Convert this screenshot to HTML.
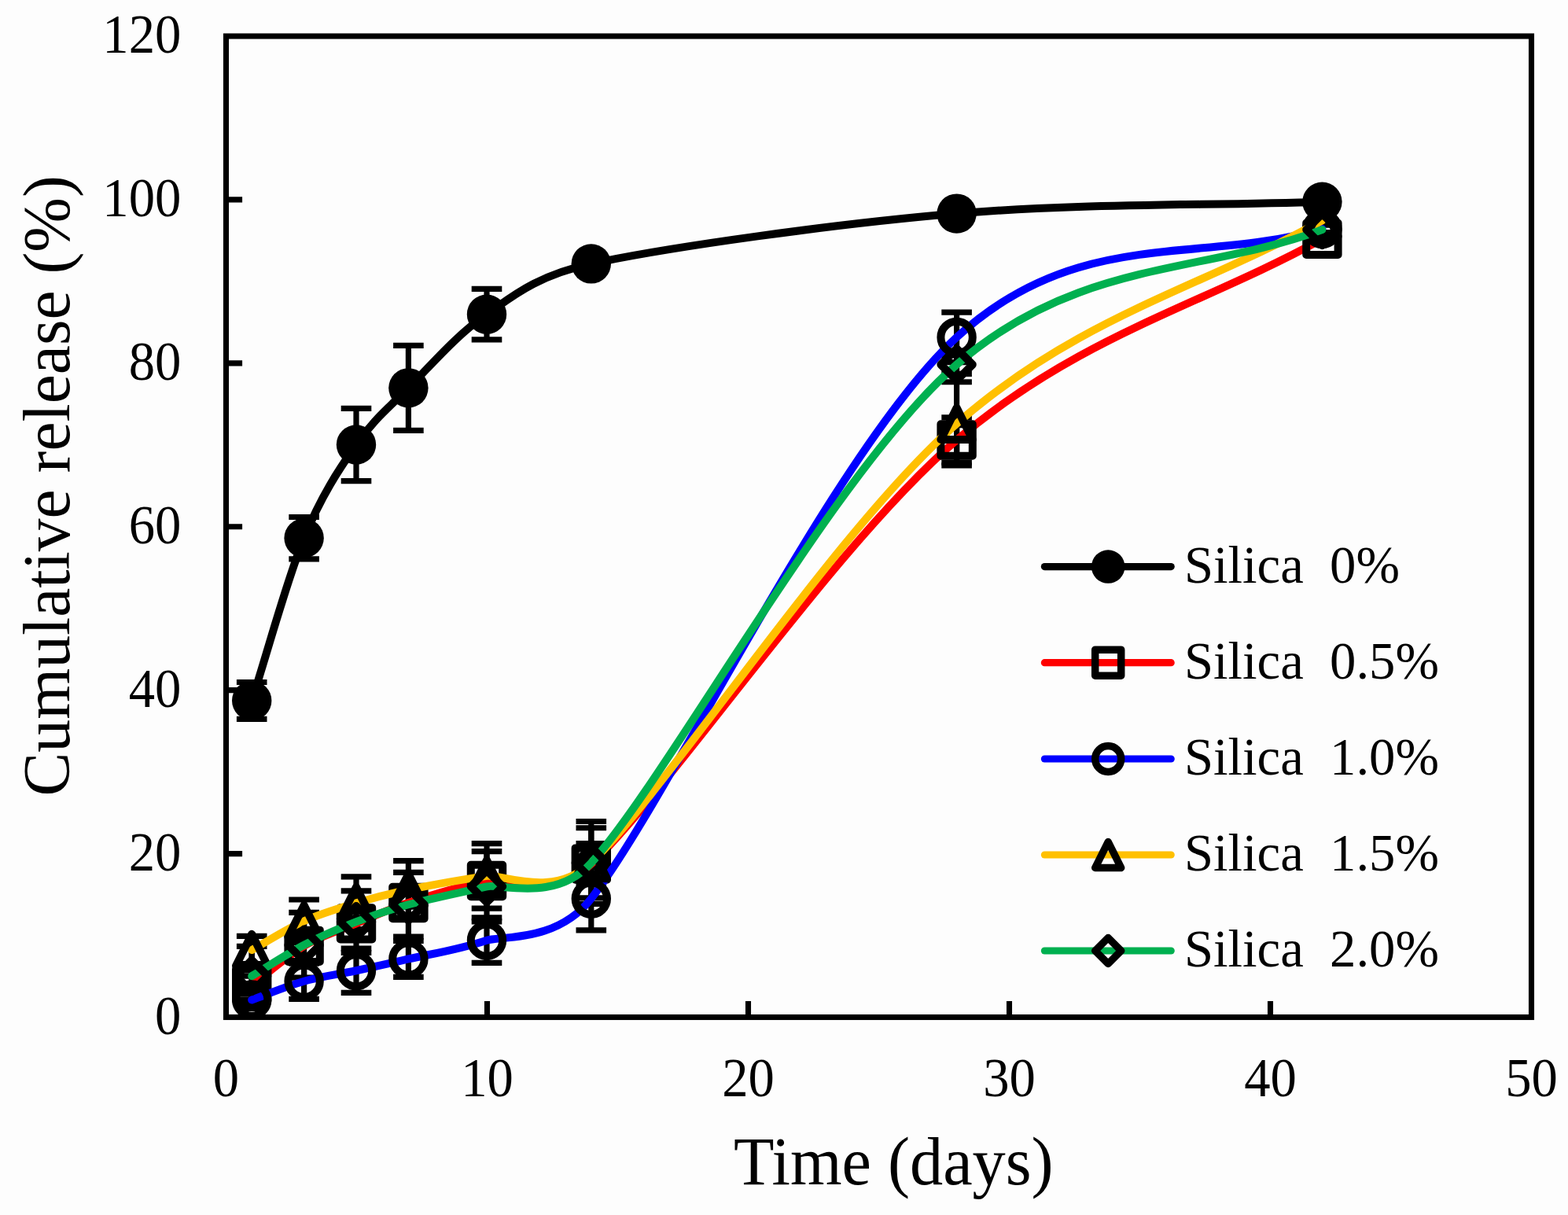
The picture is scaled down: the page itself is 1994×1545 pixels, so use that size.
<!DOCTYPE html>
<html lang="en">
<head>
<meta charset="utf-8">
<title>Cumulative release (%) vs Time (days)</title>
<style>
html,body{margin:0;padding:0;background:#fdfdfd;}
body{width:1994px;height:1545px;overflow:hidden;}
svg{display:block;}
text{font-family:"Liberation Serif","Times New Roman",Times,serif;fill:#000;}
.tick{font-size:66.67px;}
.title{font-size:83.6px;}
.leg{font-size:66.67px;white-space:pre;}
</style>
</head>
<body>
<svg width="1994" height="1545" viewBox="0 0 1994 1545" role="img" aria-label="Cumulative release versus time for silica 0 to 2.0%">
<rect x="0" y="0" width="1994" height="1545" fill="#fdfdfd"/>
<g id="series" fill="none" stroke-linecap="round" stroke-linejoin="round">
<g id="errorbars">
<path d="M320.2,867.48 V914.47 M300.9,867.48 H339.5 M300.9,914.47 H339.5 M386.6,657.48 V710.92 M367.3,657.48 H405.9 M367.3,710.92 H405.9 M453,519.32 V611.64 M433.7,519.32 H472.3 M433.7,611.64 H472.3 M519.4,439.38 V547.29 M500.1,439.38 H538.7 M500.1,547.29 H538.7 M619,367.44 V431.89 M599.7,367.44 H638.3 M599.7,431.89 H638.3" stroke="#000" stroke-width="7.2" stroke-linecap="butt"/>
<path d="M320.2,1241.21 V1264.08 M300.9,1241.21 H339.5 M300.9,1264.08 H339.5 M751.8,1072.59 V1124.57 M732.5,1072.59 H771.1 M732.5,1124.57 H771.1 M1216.6,530.97 V588.14 M1197.3,530.97 H1235.9 M1197.3,588.14 H1235.9" stroke="#000" stroke-width="7.2" stroke-linecap="butt"/>
<path d="M320.2,1260.55 V1282.38 M300.9,1260.55 H339.5 M300.9,1282.38 H339.5 M386.6,1225.2 V1270.32 M367.3,1225.2 H405.9 M367.3,1270.32 H405.9 M453,1206.18 V1262.31 M433.7,1206.18 H472.3 M433.7,1262.31 H472.3 M519.4,1196.51 V1242.46 M500.1,1196.51 H538.7 M500.1,1242.46 H538.7 M619,1166.88 V1224.47 M599.7,1166.88 H638.3 M599.7,1224.47 H638.3 M751.8,1102.74 V1182.78 M732.5,1102.74 H771.1 M732.5,1182.78 H771.1 M1216.6,397.17 V460.59 M1197.3,397.17 H1235.9 M1197.3,460.59 H1235.9 M1681.4,286.25 V295.6 M1662.1,286.25 H1700.7 M1662.1,295.6 H1700.7" stroke="#000" stroke-width="7.2" stroke-linecap="butt"/>
<path d="M320.2,1190.37 V1225.72 M300.9,1190.37 H339.5 M300.9,1225.72 H339.5 M386.6,1144.01 V1198.48 M367.3,1144.01 H405.9 M367.3,1198.48 H405.9 M453,1114.9 V1181.64 M433.7,1114.9 H472.3 M433.7,1181.64 H472.3 M519.4,1094.63 V1168.23 M500.1,1094.63 H538.7 M500.1,1168.23 H538.7 M619,1072.59 V1155.13 M599.7,1072.59 H638.3 M599.7,1155.13 H638.3 M751.8,1044.52 V1149.52 M732.5,1044.52 H771.1 M732.5,1149.52 H771.1 M1216.6,485.74 V591.78 M1197.3,485.74 H1235.9 M1197.3,591.78 H1235.9" stroke="#000" stroke-width="7.2" stroke-linecap="butt"/>
<path d="M320.2,1203.37 V1278.84 M300.9,1203.37 H339.5 M300.9,1278.84 H339.5 M386.6,1160.33 V1243.08 M367.3,1160.33 H405.9 M367.3,1243.08 H405.9 M453,1132.88 V1211.48 M433.7,1132.88 H472.3 M433.7,1211.48 H472.3 M519.4,1109.39 V1191.1 M500.1,1109.39 H538.7 M500.1,1191.1 H538.7 M619,1082.67 V1171.87 M599.7,1082.67 H638.3 M599.7,1171.87 H638.3 M751.8,1052.73 V1141.93 M732.5,1052.73 H771.1 M732.5,1141.93 H771.1 M1216.6,451.85 V475.35 M1197.3,451.85 H1235.9 M1197.3,475.35 H1235.9" stroke="#000" stroke-width="7.2" stroke-linecap="butt"/>
</g>
<g>
<path d="M320.2,890.97 C342.33,822.05 364.47,738.45 386.6,684.2 C408.73,629.95 430.87,597.29 453,565.48 C475.13,533.67 491.73,520.97 519.4,493.33 C547.07,465.7 580.27,425.99 619,399.67 C647.05,380.61 679.68,350.88 751.8,335.42 C851.4,314.07 1061.67,284.71 1216.6,271.59 C1371.53,258.47 1526.47,261.68 1681.4,256.72" stroke="#000000" stroke-width="10"/>
<circle cx="320.2" cy="890.97" r="25.2" fill="#000"/>
<circle cx="386.6" cy="684.2" r="25.2" fill="#000"/>
<circle cx="453" cy="565.48" r="25.2" fill="#000"/>
<circle cx="519.4" cy="493.33" r="25.2" fill="#000"/>
<circle cx="619" cy="399.67" r="25.2" fill="#000"/>
<circle cx="751.8" cy="335.42" r="25.2" fill="#000"/>
<circle cx="1216.6" cy="271.59" r="25.2" fill="#000"/>
<circle cx="1681.4" cy="256.72" r="25.2" fill="#000"/>
</g>
<g>
<path d="M320.2,1252.64 C342.33,1236.05 364.47,1215.9 386.6,1202.85 C408.73,1189.8 430.87,1183.51 453,1174.36 C475.13,1165.22 491.73,1157.02 519.4,1147.96 C547.07,1138.9 580.27,1128.22 619,1119.99 C638.08,1115.94 702.74,1144.59 751.8,1098.58 C851.4,1005.17 1061.67,692.01 1216.6,559.55 C1371.53,427.09 1526.47,389.06 1681.4,303.82" stroke="#ff0000" stroke-width="10"/>
<rect x="300" y="1232.44" width="40.4" height="40.4" fill="none" stroke="#000" stroke-width="10" stroke-linejoin="round"/>
<rect x="366.4" y="1182.65" width="40.4" height="40.4" fill="none" stroke="#000" stroke-width="10" stroke-linejoin="round"/>
<rect x="432.8" y="1154.16" width="40.4" height="40.4" fill="none" stroke="#000" stroke-width="10" stroke-linejoin="round"/>
<rect x="499.2" y="1127.76" width="40.4" height="40.4" fill="none" stroke="#000" stroke-width="10" stroke-linejoin="round"/>
<rect x="598.8" y="1099.79" width="40.4" height="40.4" fill="none" stroke="#000" stroke-width="10" stroke-linejoin="round"/>
<rect x="731.6" y="1078.38" width="40.4" height="40.4" fill="none" stroke="#000" stroke-width="10" stroke-linejoin="round"/>
<rect x="1196.4" y="539.35" width="40.4" height="40.4" fill="none" stroke="#000" stroke-width="10" stroke-linejoin="round"/>
<rect x="1661.2" y="283.62" width="40.4" height="40.4" fill="none" stroke="#000" stroke-width="10" stroke-linejoin="round"/>
</g>
<g>
<path d="M320.2,1271.46 C342.33,1263.56 364.47,1253.96 386.6,1247.76 C408.73,1241.56 430.87,1238.96 453,1234.24 C475.13,1229.53 491.73,1225.91 519.4,1219.48 C547.07,1213.05 580.27,1208.46 619,1195.68 C636.09,1190.03 707.86,1199.14 751.8,1142.76 C851.4,1014.96 1061.67,570.85 1216.6,428.88 C1371.53,286.91 1526.47,336.91 1681.4,290.93" stroke="#0000ff" stroke-width="10"/>
<circle cx="320.2" cy="1271.46" r="20.2" fill="none" stroke="#000" stroke-width="10"/>
<circle cx="386.6" cy="1247.76" r="20.2" fill="none" stroke="#000" stroke-width="10"/>
<circle cx="453" cy="1234.24" r="20.2" fill="none" stroke="#000" stroke-width="10"/>
<circle cx="519.4" cy="1219.48" r="20.2" fill="none" stroke="#000" stroke-width="10"/>
<circle cx="619" cy="1195.68" r="20.2" fill="none" stroke="#000" stroke-width="10"/>
<circle cx="751.8" cy="1142.76" r="20.2" fill="none" stroke="#000" stroke-width="10"/>
<circle cx="1216.6" cy="428.88" r="20.2" fill="none" stroke="#000" stroke-width="10"/>
<circle cx="1681.4" cy="290.93" r="20.2" fill="none" stroke="#000" stroke-width="10"/>
</g>
<g>
<path d="M320.2,1208.05 C342.33,1195.78 364.47,1181.21 386.6,1171.24 C408.73,1161.28 430.87,1154.91 453,1148.27 C475.13,1141.63 491.73,1137.16 519.4,1131.43 C547.07,1125.69 580.27,1119.6 619,1113.86 C637.76,1111.08 703.57,1143.43 751.8,1097.02 C851.4,1001.17 1061.67,674.86 1216.6,538.76 C1371.53,402.66 1526.47,366.54 1681.4,280.43" stroke="#ffc000" stroke-width="10"/>
<path d="M320.2,1187.85 L340.4,1228.25 L300,1228.25 Z" fill="none" stroke="#000" stroke-width="10" stroke-linejoin="round"/>
<path d="M386.6,1151.04 L406.8,1191.44 L366.4,1191.44 Z" fill="none" stroke="#000" stroke-width="10" stroke-linejoin="round"/>
<path d="M453,1128.07 L473.2,1168.47 L432.8,1168.47 Z" fill="none" stroke="#000" stroke-width="10" stroke-linejoin="round"/>
<path d="M519.4,1111.23 L539.6,1151.63 L499.2,1151.63 Z" fill="none" stroke="#000" stroke-width="10" stroke-linejoin="round"/>
<path d="M619,1093.66 L639.2,1134.06 L598.8,1134.06 Z" fill="none" stroke="#000" stroke-width="10" stroke-linejoin="round"/>
<path d="M751.8,1076.82 L772,1117.22 L731.6,1117.22 Z" fill="none" stroke="#000" stroke-width="10" stroke-linejoin="round"/>
<path d="M1216.6,518.56 L1236.8,558.96 L1196.4,558.96 Z" fill="none" stroke="#000" stroke-width="10" stroke-linejoin="round"/>
<path d="M1681.4,260.23 L1701.6,300.63 L1661.2,300.63 Z" fill="none" stroke="#000" stroke-width="10" stroke-linejoin="round"/>
</g>
<g>
<path d="M320.2,1241.11 C342.33,1227.97 364.47,1213.19 386.6,1201.7 C408.73,1190.22 430.87,1180.76 453,1172.18 C475.13,1163.6 491.73,1157.73 519.4,1150.25 C547.07,1142.76 580.27,1136.09 619,1127.27 C636.71,1123.24 706.25,1147.91 751.8,1097.33 C851.4,986.72 1061.67,597.81 1216.6,463.6 C1371.53,329.39 1526.47,349.25 1681.4,292.07" stroke="#00b050" stroke-width="10"/>
<path d="M320.2,1220.9 L340.4,1241.11 L320.2,1261.31 L300,1241.11 Z" fill="none" stroke="#000" stroke-width="10" stroke-linejoin="round"/>
<path d="M386.6,1181.5 L406.8,1201.7 L386.6,1221.9 L366.4,1201.7 Z" fill="none" stroke="#000" stroke-width="10" stroke-linejoin="round"/>
<path d="M453,1151.98 L473.2,1172.18 L453,1192.38 L432.8,1172.18 Z" fill="none" stroke="#000" stroke-width="10" stroke-linejoin="round"/>
<path d="M519.4,1130.05 L539.6,1150.25 L519.4,1170.45 L499.2,1150.25 Z" fill="none" stroke="#000" stroke-width="10" stroke-linejoin="round"/>
<path d="M619,1107.07 L639.2,1127.27 L619,1147.47 L598.8,1127.27 Z" fill="none" stroke="#000" stroke-width="10" stroke-linejoin="round"/>
<path d="M751.8,1077.13 L772,1097.33 L751.8,1117.53 L731.6,1097.33 Z" fill="none" stroke="#000" stroke-width="10" stroke-linejoin="round"/>
<path d="M1216.6,443.4 L1236.8,463.6 L1216.6,483.8 L1196.4,463.6 Z" fill="none" stroke="#000" stroke-width="10" stroke-linejoin="round"/>
<path d="M1681.4,271.87 L1701.6,292.07 L1681.4,312.27 L1661.2,292.07 Z" fill="none" stroke="#000" stroke-width="10" stroke-linejoin="round"/>
</g>
</g>
<rect x="287.5" y="46" width="1660" height="1247.5" fill="none" stroke="#000" stroke-width="7.1"/>
<path d="M287.5,1085.58 h20.6 M287.5,877.67 h20.6 M287.5,669.75 h20.6 M287.5,461.83 h20.6 M287.5,253.92 h20.6 M619.5,1293.5 v-20.6 M951.5,1293.5 v-20.6 M1283.5,1293.5 v-20.6 M1615.5,1293.5 v-20.6" fill="none" stroke="#000" stroke-width="7.1"/>
<g class="tick" text-anchor="end">
<text transform="translate(230.3 1314.5) scale(1 1.04)">0</text>
<text transform="translate(230.3 1106.58) scale(1 1.04)">20</text>
<text transform="translate(230.3 898.67) scale(1 1.04)">40</text>
<text transform="translate(230.3 690.75) scale(1 1.04)">60</text>
<text transform="translate(230.3 482.83) scale(1 1.04)">80</text>
<text transform="translate(230.3 274.92) scale(1 1.04)">100</text>
<text transform="translate(230.3 67) scale(1 1.04)">120</text>
</g>
<g class="tick" text-anchor="middle">
<text transform="translate(287.5 1393.5) scale(1 1.04)">0</text>
<text transform="translate(619.5 1393.5) scale(1 1.04)">10</text>
<text transform="translate(951.5 1393.5) scale(1 1.04)">20</text>
<text transform="translate(1283.5 1393.5) scale(1 1.04)">30</text>
<text transform="translate(1615.5 1393.5) scale(1 1.04)">40</text>
<text transform="translate(1947.5 1393.5) scale(1 1.04)">50</text>
</g>
<text class="title" text-anchor="middle" style="font-size:84.3px" transform="translate(1136.3 1505.5) scale(1 1.02)">Time (days)</text>
<text class="title" text-anchor="middle" transform="translate(88 617.8) rotate(-90) scale(1 1.02)">Cumulative release (%)</text>
<g id="legend">
<path d="M1328.4,720.6 H1489.2" stroke="#000000" stroke-width="9.2" stroke-linecap="round" fill="none"/>
<circle cx="1409.2" cy="720.6" r="21.25" fill="#000"/>
<text class="leg" xml:space="preserve" transform="translate(1506 741) scale(1 1.03)">Silica  0%</text>
<path d="M1328.4,842.7 H1489.2" stroke="#ff0000" stroke-width="9.2" stroke-linecap="round" fill="none"/>
<rect x="1392.7" y="826.2" width="33" height="33" fill="none" stroke="#000" stroke-width="9.5" stroke-linejoin="round"/>
<text class="leg" xml:space="preserve" transform="translate(1506 863.1) scale(1 1.03)">Silica  0.5%</text>
<path d="M1328.4,965 H1489.2" stroke="#0000ff" stroke-width="9.2" stroke-linecap="round" fill="none"/>
<circle cx="1409.2" cy="965" r="16.5" fill="none" stroke="#000" stroke-width="9.5"/>
<text class="leg" xml:space="preserve" transform="translate(1506 985.4) scale(1 1.03)">Silica  1.0%</text>
<path d="M1328.4,1087 H1489.2" stroke="#ffc000" stroke-width="9.2" stroke-linecap="round" fill="none"/>
<path d="M1409.2,1070.5 L1425.7,1103.5 L1392.7,1103.5 Z" fill="none" stroke="#000" stroke-width="9.5" stroke-linejoin="round"/>
<text class="leg" xml:space="preserve" transform="translate(1506 1107.4) scale(1 1.03)">Silica  1.5%</text>
<path d="M1328.4,1209 H1489.2" stroke="#00b050" stroke-width="9.2" stroke-linecap="round" fill="none"/>
<path d="M1409.2,1192.5 L1425.7,1209 L1409.2,1225.5 L1392.7,1209 Z" fill="none" stroke="#000" stroke-width="9.5" stroke-linejoin="round"/>
<text class="leg" xml:space="preserve" transform="translate(1506 1229.4) scale(1 1.03)">Silica  2.0%</text>
</g>
</svg>
</body>
</html>
